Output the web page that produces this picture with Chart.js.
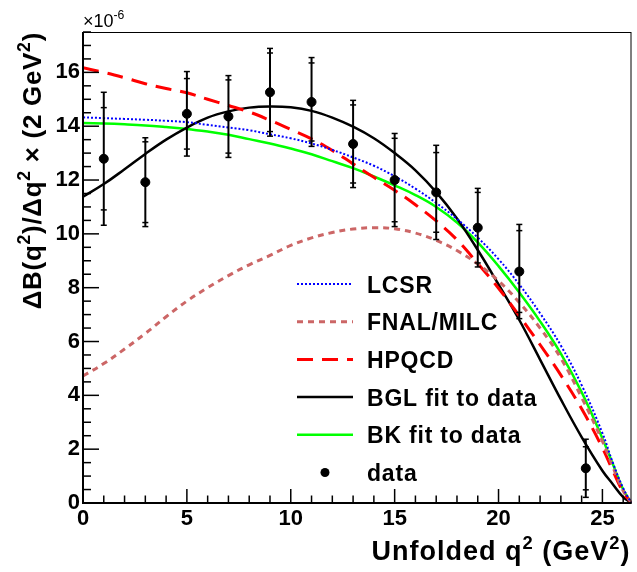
<!DOCTYPE html>
<html>
<head>
<meta charset="utf-8">
<script src="https://cdn.jsdelivr.net/npm/chart.js@4.4.1/dist/chart.umd.min.js"></script>
<style>
  html, body { margin: 0; padding: 0; background: #fff; }
  #wrap { width: 637px; height: 572px; }
</style>
</head>
<body>
<div id="wrap"><canvas id="myChart"></canvas></div>
<script>
// values, y in units of 1e-6
var xTicks = [0, 5, 10, 15, 20, 25];
var yTicks = [0, 2, 4, 6, 8, 10, 12, 14, 16];

var dataX = [1, 3, 5, 7, 9, 11, 13, 15, 17, 19, 21, 24.2];
var dataY = [12.79, 11.92, 14.46, 14.36, 15.26, 14.9, 13.34, 12.0, 11.54, 10.23, 8.6, 1.29];
var dataStat = [1.9, 1.5, 1.31, 1.36, 1.46, 1.45, 1.45, 1.55, 1.48, 1.31, 1.52, 0.8];
var dataTot = [2.47, 1.65, 1.57, 1.52, 1.63, 1.65, 1.62, 1.73, 1.75, 1.46, 1.75, 1.08];

var curveX = [0, 1, 2, 3, 4, 5, 6, 7, 8, 9, 10, 11, 12, 13, 14, 15, 16, 17, 18, 19, 20, 21, 22, 23, 24, 25, 25.5, 26, 26.4];
var lcsr = [14.33, 14.3, 14.27, 14.24, 14.2, 14.15, 14.05, 13.95, 13.85, 13.7, 13.55, 13.36, 13.12, 12.84, 12.53, 12.14, 11.68, 11.15, 10.55, 9.86, 9.06, 8.12, 7.05, 5.85, 4.38, 2.6, 1.5, 0.55, 0];
var fnal = [4.72, 5.18, 5.72, 6.3, 6.92, 7.5, 8.0, 8.45, 8.85, 9.2, 9.57, 9.85, 10.05, 10.18, 10.23, 10.19, 10.03, 9.76, 9.38, 8.88, 8.25, 7.45, 6.5, 5.38, 3.92, 2.3, 1.35, 0.45, 0];
var hpqcd = [16.17, 16.0, 15.8, 15.58, 15.4, 15.24, 15.0, 14.77, 14.53, 14.22, 13.88, 13.53, 13.1, 12.6, 12.1, 11.62, 11.08, 10.48, 9.78, 8.9, 7.98, 6.95, 5.88, 4.75, 3.5, 2.05, 1.2, 0.4, 0];
var bgl = [11.38, 11.85, 12.4, 12.97, 13.5, 13.95, 14.32, 14.55, 14.69, 14.73, 14.7, 14.57, 14.32, 13.98, 13.55, 13.0, 12.36, 11.55, 10.57, 9.4, 8.12, 6.8, 5.33, 3.85, 2.45, 1.2, 0.7, 0.22, 0];
var bk = [14.12, 14.1, 14.07, 14.03, 13.97, 13.9, 13.8, 13.68, 13.52, 13.36, 13.17, 12.96, 12.7, 12.44, 12.13, 11.8, 11.44, 11.0, 10.42, 9.68, 8.8, 7.82, 6.75, 5.55, 4.12, 2.4, 1.45, 0.5, 0];

var FONT = "'Liberation Sans', Arial, Helvetica, sans-serif";

function pts(ys) {
    return curveX.map(function (x, i) { return { x: x, y: ys[i] }; });
}

// text with superscripts, parts = [[text, isSup], ...], sp = extra px per char
function drawRich(ctx, parts, x, y, size, weight, align, sp) {
    sp = sp || 0;
    var fontOf = function (p) { return weight + " " + (p[1] ? size * 0.68 : size) + "px " + FONT; };
    var w = 0;
    parts.forEach(function (p) {
        ctx.font = fontOf(p);
        for (var c of p[0]) w += ctx.measureText(c).width + sp;
    });
    var cx = align === "right" ? x - w : x;
    ctx.textAlign = "left";
    ctx.textBaseline = "alphabetic";
    parts.forEach(function (p) {
        ctx.font = fontOf(p);
        for (var c of p[0]) {
            ctx.fillText(c, cx, p[1] ? y - size * 0.42 : y);
            cx += ctx.measureText(c).width + sp;
        }
    });
}

var rootStyle = {
    id: "rootStyle",
    afterDatasetsDraw: function (chart) {
        var ctx = chart.ctx, xs = chart.scales.x, ys = chart.scales.y;
        // error bars: inner caps = stat, outer caps = total
        ctx.save();
        ctx.strokeStyle = "#000";
        dataX.forEach(function (x, i) {
            var px = xs.getPixelForValue(x);
            ctx.lineWidth = 2;
            ctx.beginPath();
            ctx.moveTo(px, ys.getPixelForValue(dataY[i] + dataTot[i]));
            ctx.lineTo(px, ys.getPixelForValue(Math.max(dataY[i] - dataTot[i], 0)));
            ctx.stroke();
            ctx.lineWidth = 1.5;
            [dataY[i] + dataTot[i], dataY[i] + dataStat[i], dataY[i] - dataStat[i], dataY[i] - dataTot[i]].forEach(function (v) {
                var py = ys.getPixelForValue(v);
                ctx.beginPath();
                ctx.moveTo(px - 3, py);
                ctx.lineTo(px + 3, py);
                ctx.stroke();
            });
        });
        ctx.restore();
    },
    afterDraw: function (chart) {
        var ctx = chart.ctx, a = chart.chartArea, xs = chart.scales.x, ys = chart.scales.y;
        ctx.save();
        ctx.fillStyle = "#000";
        ctx.strokeStyle = "#000";

        // frame
        ctx.lineWidth = 1;
        ctx.strokeRect(a.left + 0.5, a.top + 0.5, a.right - a.left - 1, a.bottom - a.top);
        ctx.lineWidth = 2;
        ctx.beginPath();
        ctx.moveTo(a.left, a.top);
        ctx.lineTo(a.left, a.bottom);
        ctx.lineTo(a.right, a.bottom);
        ctx.stroke();

        // inward ticks
        ctx.lineWidth = 1.5;
        for (var v = 0; v <= 26; v++) {
            var px = xs.getPixelForValue(v);
            var len = v % 5 === 0 ? 14 : 7.5;
            ctx.beginPath();
            ctx.moveTo(px, a.bottom);
            ctx.lineTo(px, a.bottom - len);
            ctx.stroke();
        }
        for (var w = 0; w <= 17.5; w += 0.5) {
            var py = ys.getPixelForValue(w);
            var l2 = w % 2 === 0 ? 16 : 8;
            ctx.beginPath();
            ctx.moveTo(a.left, py);
            ctx.lineTo(a.left + l2, py);
            ctx.stroke();
        }

        // exponent
        drawRich(ctx, [["\u00d710", false], ["-6", true]], a.left, 27, 18, "normal", "left");

        // axis titles
        drawRich(ctx, [["Unfolded q", false], ["2", true], [" (GeV", false], ["2", true], [")", false]], a.right - 1, 560, 27, "bold", "right", 1);
        ctx.save();
        ctx.translate(41, a.top);
        ctx.rotate(-Math.PI / 2);
        drawRich(ctx, [["\u0394B(q", false], ["2", true], [")/\u0394q", false], ["2", true], [" \u00d7 (2 GeV", false], ["2", true], [")", false]], 0, 0, 26, "bold", "right", 0.7);
        ctx.restore();

        // legend
        var rowTop = 284, rowStep = 37.7, lineL = 297, lineR = 353, textX = 367;
        var order = [1, 2, 3, 4, 5, 0];
        order.forEach(function (di, k) {
            var ds = chart.data.datasets[di];
            var yy = rowTop + k * rowStep;
            if (ds.showLine === false) {
                ctx.beginPath();
                ctx.arc((lineL + lineR) / 2, yy, ds.pointRadius, 0, Math.PI * 2);
                ctx.fill();
            } else {
                ctx.save();
                ctx.strokeStyle = ds.borderColor;
                ctx.lineWidth = ds.borderWidth;
                ctx.setLineDash(ds.borderDash || []);
                ctx.beginPath();
                ctx.moveTo(lineL, yy);
                ctx.lineTo(lineR, yy);
                ctx.stroke();
                ctx.restore();
            }
            drawRich(ctx, [[ds.label, false]], textX, yy + 8.5, 23, "bold", "left", 0.8);
        });
        ctx.restore();
    }
};

new Chart("myChart", {
    type: "line",
    data: {
        datasets: [
            { label: "data", data: dataX.map(function (x, i) { return { x: x, y: dataY[i] }; }), showLine: false, pointRadius: 4.5, pointBackgroundColor: "#000", pointBorderColor: "#000", order: -1 },
            { label: "LCSR", data: pts(lcsr), borderColor: "#0000ff", borderWidth: 2, borderDash: [2, 2] },
            { label: "FNAL/MILC", data: pts(fnal), borderColor: "#cc6666", borderWidth: 3, borderDash: [6, 5] },
            { label: "HPQCD", data: pts(hpqcd), borderColor: "#ff0000", borderWidth: 3, borderDash: [16, 9] },
            { label: "BGL fit to data", data: pts(bgl), borderColor: "#000000", borderWidth: 2.5 },
            { label: "BK fit to data", data: pts(bk), borderColor: "#00ff00", borderWidth: 2.5 }
        ]
    },
    options: {
        responsive: true,
        maintainAspectRatio: false,
        animation: false,
        layout: { padding: { top: 32, right: 1, left: 0, bottom: 0 } },
        elements: {
            point: { radius: 0 },
            line: { tension: 0.4, fill: false }
        },
        plugins: {
            legend: { display: false },
            tooltip: { enabled: false }
        },
        scales: {
            x: {
                type: "linear",
                min: 0,
                max: 26.4,
                afterFit: function (s) { s.height = 69; },
                afterBuildTicks: function (s) { s.ticks = xTicks.map(function (v) { return { value: v }; }); },
                grid: { display: false, drawTicks: false },
                border: { display: false },
                ticks: { color: "#000", padding: 3, maxRotation: 0, autoSkip: false, font: { family: FONT, size: 22, weight: "bold" } }
            },
            y: {
                type: "linear",
                min: 0,
                max: 17.5,
                afterFit: function (s) { s.width = 83; },
                afterBuildTicks: function (s) { s.ticks = yTicks.map(function (v) { return { value: v }; }); },
                grid: { display: false, drawTicks: false },
                border: { display: false },
                ticks: { color: "#000", padding: 3, autoSkip: false, font: { family: FONT, size: 22, weight: "bold" } }
            }
        }
    },
    plugins: [rootStyle]
});
</script>
</body>
</html>
